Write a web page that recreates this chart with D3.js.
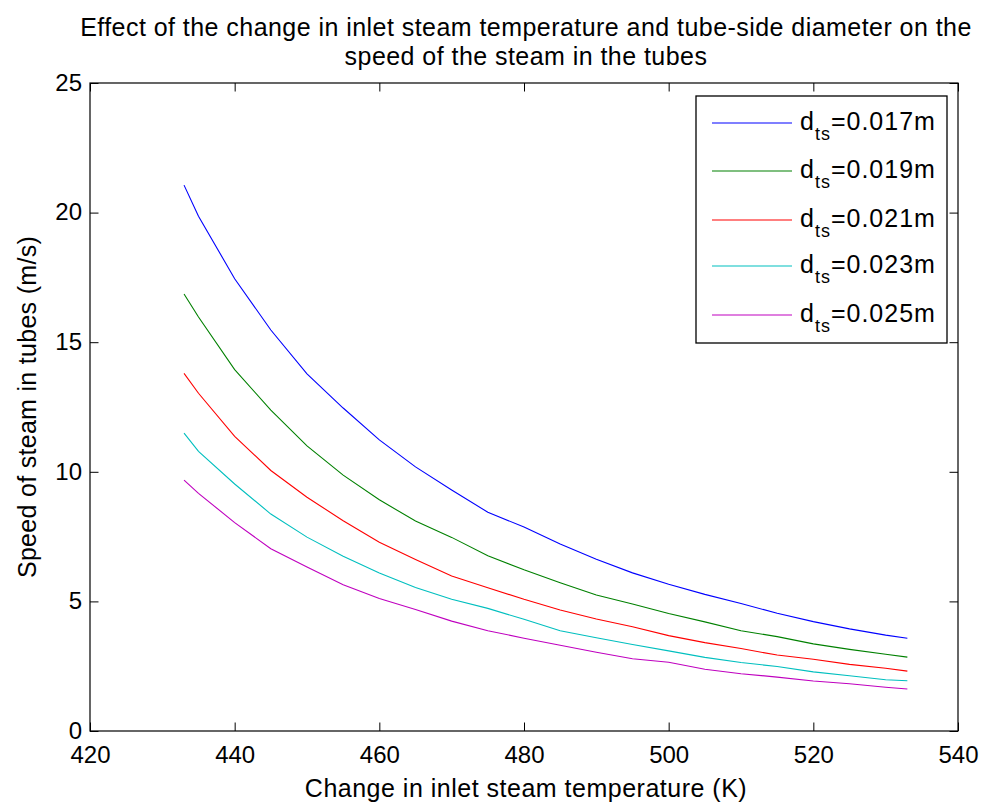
<!DOCTYPE html>
<html><head><meta charset="utf-8">
<script src="https://cdn.jsdelivr.net/npm/d3@7"></script>
<style>body{margin:0;background:#fff;} text{font-family:"Liberation Sans",Arial,sans-serif;fill:#000;}</style>
</head><body>
<svg id="chart" width="982" height="802"></svg>
<script>
const temps = [433,435,440,445,450,455,460,465,470,475,480,485,490,495,500,505,510,515,520,525,530,533];
const d017 = [21.06,19.86,17.45,15.47,13.78,12.46,11.23,10.19,9.30,8.44,7.87,7.21,6.63,6.10,5.66,5.27,4.92,4.54,4.22,3.94,3.70,3.58];
const d019 = [16.86,15.97,13.94,12.38,11.00,9.87,8.92,8.10,7.47,6.76,6.22,5.72,5.25,4.90,4.53,4.21,3.87,3.64,3.36,3.15,2.96,2.85];
const d021 = [13.80,13.03,11.37,10.05,9.02,8.11,7.28,6.62,5.98,5.53,5.08,4.67,4.32,4.02,3.68,3.41,3.18,2.93,2.77,2.57,2.42,2.31];
const d023 = [11.49,10.79,9.53,8.37,7.48,6.74,6.10,5.54,5.08,4.73,4.31,3.87,3.60,3.34,3.09,2.84,2.64,2.49,2.28,2.13,1.98,1.94];
const d025 = [9.68,9.17,8.04,7.03,6.33,5.64,5.11,4.69,4.24,3.87,3.58,3.31,3.04,2.79,2.65,2.38,2.21,2.08,1.93,1.82,1.69,1.62];
const seriesLabels = ["0.017m","0.019m","0.021m","0.023m","0.025m"];
const seriesColors = ["#0000ff","#008000","#ff0000","#00bfbf","#bf00bf"];
const xTicks = [420,440,460,480,500,520,540];
const yTicks = [0,5,10,15,20,25];
const titleLines = ["Effect of the change in inlet steam temperature and tube-side diameter on the","speed of the steam in the tubes"];
const xLabel = "Change in inlet steam temperature (K)";
const yLabel = "Speed of steam in tubes (m/s)";

const series = [d017,d019,d021,d023,d025];
const svg = d3.select("#chart");
const L=90, R=958, T=83, B=731;
const x = d3.scaleLinear().domain([420,540]).range([L,R]);
const y = d3.scaleLinear().domain([0,25]).range([B,T]);

const line = d3.line().x((d,i)=>x(temps[i])).y(d=>y(d));
series.forEach((s,k)=>{
  svg.append("path").datum(s).attr("d",line).attr("fill","none")
    .attr("stroke",seriesColors[k]).attr("stroke-width",1.1);
});

const tl = 8.5;
const gx = svg.append("g").attr("transform",`translate(0,${B})`)
  .call(d3.axisBottom(x).tickValues(xTicks).tickSize(-tl).tickPadding(15).tickFormat(d3.format("d")));
const gxt = svg.append("g").attr("transform",`translate(0,${T})`)
  .call(d3.axisTop(x).tickValues(xTicks).tickSize(-tl).tickFormat(""));
const gy = svg.append("g").attr("transform",`translate(${L},0)`)
  .call(d3.axisLeft(y).tickValues(yTicks).tickSize(-tl).tickPadding(8).tickFormat(d3.format("d")));
const gyr = svg.append("g").attr("transform",`translate(${R},0)`)
  .call(d3.axisRight(y).tickValues(yTicks).tickSize(-tl).tickFormat(""));
[gx,gxt,gy,gyr].forEach(g=>{
  g.select(".domain").remove();
  g.selectAll("line").attr("stroke","#000").attr("stroke-width",1);
  g.selectAll("text").style("font-family","Liberation Sans, Arial, sans-serif").style("font-size","24px").attr("fill","#000");
});
gy.selectAll("text").attr("dy","0.3em");
svg.append("rect").attr("x",L).attr("y",T).attr("width",R-L).attr("height",B-T)
  .attr("fill","none").attr("stroke","#000").attr("stroke-width",1.2);

titleLines.forEach((t,i)=>{
  svg.append("text").attr("x",(L+R)/2+2).attr("y",36+i*29).attr("text-anchor","middle")
    .style("font-size","25px").style("letter-spacing","0.45px").text(t);
});
svg.append("text").attr("x",(L+R)/2+2).attr("y",797).attr("text-anchor","middle")
  .style("font-size","25px").style("letter-spacing","0.5px").text(xLabel);
svg.append("text").attr("transform",`translate(36,${(T+B)/2}) rotate(-90)`).attr("text-anchor","middle")
  .style("font-size","25px").style("letter-spacing","0.3px").text(yLabel);

const lg = svg.append("g");
lg.append("rect").attr("x",696).attr("y",96).attr("width",251).attr("height",247)
  .attr("fill","#fff").attr("stroke","#000").attr("stroke-width",1.3);
const rowY = [123,171,220,266,315];
seriesLabels.forEach((lab,k)=>{
  lg.append("line").attr("x1",712).attr("x2",792).attr("y1",rowY[k]).attr("y2",rowY[k])
    .attr("stroke",seriesColors[k]).attr("stroke-width",1.1);
  const t = lg.append("text").attr("x",800).attr("y",rowY[k]+7).style("font-size","25px").style("letter-spacing","1px");
  t.append("tspan").text("d");
  t.append("tspan").attr("dy",10).style("font-size","18px").text("ts");
  t.append("tspan").attr("dy",-10).text("="+lab);
});
</script>
</body></html>
